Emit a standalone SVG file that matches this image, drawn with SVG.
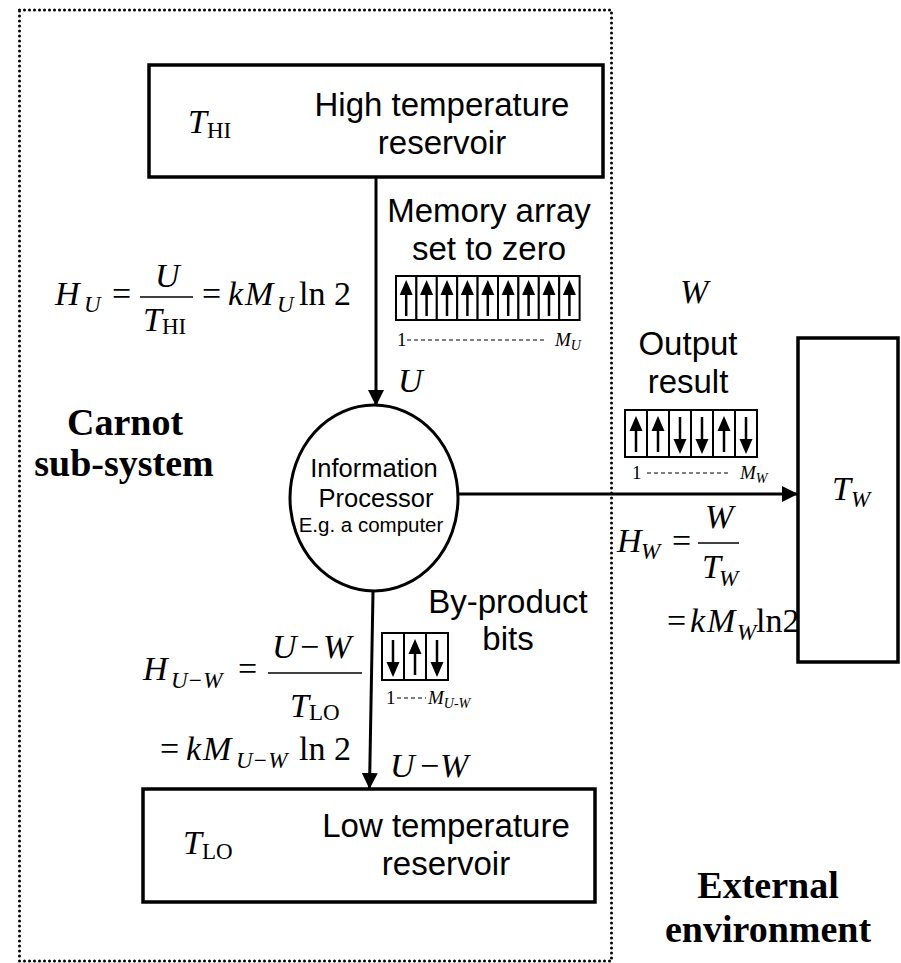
<svg xmlns="http://www.w3.org/2000/svg" xmlns:xlink="http://www.w3.org/1999/xlink" width="901" height="963" viewBox="0 0 901 963">
<style>
.lbl{font-family:"Liberation Sans",Arial,sans-serif;font-size:33px;fill:#000;text-anchor:middle}
.m{font-family:"Liberation Serif","Times New Roman",serif;font-size:34px;fill:#000;font-style:italic}
.r{font-style:normal}
.sub{font-size:23px}
.big{font-family:"Liberation Serif","Times New Roman",serif;font-size:38px;font-weight:bold;fill:#000;text-anchor:middle}
.idx{font-family:"Liberation Serif","Times New Roman",serif;font-size:19px;fill:#000}
.box{fill:#fff;stroke:#000;stroke-width:3.5}
.cell{fill:#fff;stroke:#000;stroke-width:2}
.conn{stroke:#000;stroke-width:3;fill:none}
.frac{stroke:#000;stroke-width:1.5}
.dash{stroke:#000;stroke-width:1;stroke-dasharray:4 3}
</style>
<defs>
<marker id="ah" markerWidth="16" markerHeight="16" viewBox="0 0 16 16" refX="15" refY="8" orient="auto" markerUnits="userSpaceOnUse">
<path d="M0,0 L16,8 L0,16 Z" fill="#000"/>
</marker>
<g id="up"><line x1="0" y1="16" x2="0" y2="40" stroke="#000" stroke-width="2.5"/><path d="M0,4 L-6.5,19 L6.5,19 Z" fill="#000"/></g>
<g id="dn"><line x1="0" y1="5" x2="0" y2="29" stroke="#000" stroke-width="2.5"/><path d="M0,42 L-6.5,27 L6.5,27 Z" fill="#000"/></g>
</defs>

<g id="boundary">
<rect x="19.5" y="10" width="592" height="951" fill="none" stroke="#000" stroke-width="3" stroke-dasharray="0 5" stroke-linecap="round"/>
</g>

<g id="connectors">
<line class="conn" x1="376" y1="177" x2="376" y2="405" marker-end="url(#ah)"/>
<line class="conn" x1="458" y1="494" x2="797" y2="494" marker-end="url(#ah)"/>
<line class="conn" x1="373" y1="592" x2="369.5" y2="788" marker-end="url(#ah)"/>
</g>

<g id="high-reservoir">
<rect class="box" x="149" y="65" width="454" height="112"/>
<text class="m" x="188" y="133">T<tspan class="r sub" dy="5">HI</tspan></text>
<text class="lbl" x="442" y="116">High temperature</text>
<text class="lbl" x="442" y="154">reservoir</text>
</g>

<g id="low-reservoir">
<rect class="box" x="143" y="789" width="452" height="113"/>
<text class="m" x="183" y="854">T<tspan class="r sub" dy="5">LO</tspan></text>
<text class="lbl" x="446" y="837">Low temperature</text>
<text class="lbl" x="446" y="875">reservoir</text>
</g>

<g id="processor">
<ellipse cx="374" cy="498" rx="84" ry="93" fill="#fff" stroke="#000" stroke-width="3"/>
<text class="lbl" x="374" y="477" style="font-size:25.5px">Information</text>
<text class="lbl" x="376" y="507" style="font-size:25.5px">Processor</text>
<text class="lbl" x="371" y="532" style="font-size:20.5px">E.g. a computer</text>
</g>

<g id="work-reservoir">
<rect class="box" x="798" y="338" width="100" height="324"/>
<text class="m" x="832" y="500">T<tspan class="sub" dy="7">W</tspan></text>
</g>

<g id="memory-array">
<text class="lbl" x="489" y="222">Memory array</text>
<text class="lbl" x="489" y="260">set to zero</text>
<rect class="cell" x="396" y="276" width="20.4" height="44"/>
<rect class="cell" x="416.4" y="276" width="20.4" height="44"/>
<rect class="cell" x="436.8" y="276" width="20.4" height="44"/>
<rect class="cell" x="457.2" y="276" width="20.4" height="44"/>
<rect class="cell" x="477.6" y="276" width="20.4" height="44"/>
<rect class="cell" x="498" y="276" width="20.4" height="44"/>
<rect class="cell" x="518.4" y="276" width="20.4" height="44"/>
<rect class="cell" x="538.8" y="276" width="20.4" height="44"/>
<rect class="cell" x="559.2" y="276" width="20.4" height="44"/>
<use xlink:href="#up" x="406.2" y="276"/>
<use xlink:href="#up" x="426.6" y="276"/>
<use xlink:href="#up" x="447" y="276"/>
<use xlink:href="#up" x="467.4" y="276"/>
<use xlink:href="#up" x="487.8" y="276"/>
<use xlink:href="#up" x="508.2" y="276"/>
<use xlink:href="#up" x="528.6" y="276"/>
<use xlink:href="#up" x="549" y="276"/>
<use xlink:href="#up" x="569.4" y="276"/>
<text class="idx" x="397" y="346">1</text>
<line class="dash" x1="407" y1="340" x2="545" y2="340"/>
<text class="idx" x="555" y="346" font-style="italic">M<tspan font-size="14" dy="4">U</tspan></text>
</g>

<g id="output-array">
<text class="m" x="680" y="303">W</text>
<text class="lbl" x="688" y="355">Output</text>
<text class="lbl" x="688" y="393">result</text>
<rect class="cell" x="625" y="410" width="22" height="47"/>
<rect class="cell" x="647" y="410" width="22" height="47"/>
<rect class="cell" x="669" y="410" width="22" height="47"/>
<rect class="cell" x="691" y="410" width="22" height="47"/>
<rect class="cell" x="713" y="410" width="22" height="47"/>
<rect class="cell" x="735" y="410" width="22" height="47"/>
<use xlink:href="#up" x="636" y="412"/>
<use xlink:href="#up" x="658" y="412"/>
<use xlink:href="#dn" x="680" y="412"/>
<use xlink:href="#dn" x="702" y="412"/>
<use xlink:href="#up" x="724" y="412"/>
<use xlink:href="#dn" x="746" y="412"/>
<text class="idx" x="632" y="479">1</text>
<line class="dash" x1="647" y1="473" x2="731" y2="473"/>
<text class="idx" x="740" y="479" font-style="italic">M<tspan font-size="14" dy="4">W</tspan></text>
</g>

<g id="byproduct-array">
<text class="lbl" x="508" y="613">By-product</text>
<text class="lbl" x="508" y="650">bits</text>
<rect class="cell" x="382" y="633" width="22" height="47"/>
<rect class="cell" x="404" y="633" width="22" height="47"/>
<rect class="cell" x="426" y="633" width="22" height="47"/>
<use xlink:href="#dn" x="393" y="635"/>
<use xlink:href="#up" x="415" y="635"/>
<use xlink:href="#dn" x="437" y="635"/>
<text class="idx" x="386" y="704">1</text>
<line class="dash" x1="397" y1="698" x2="426" y2="698"/>
<text class="idx" x="428" y="704" font-style="italic">M<tspan font-size="14" dy="4">U-W</tspan></text>
</g>

<g id="flow-labels">
<text class="m" x="398" y="392">U</text>
<text class="m" x="390" y="777">U<tspan x="418">−</tspan><tspan x="440">W</tspan></text>
</g>

<g id="eq-HU">
<text class="m" x="55" y="305">H</text>
<text class="m sub" x="84" y="312">U</text>
<text class="m r" x="112" y="305">=</text>
<text class="m" x="155" y="287">U</text>
<line class="frac" x1="140" y1="297" x2="193" y2="297"/>
<text class="m" x="143" y="331">T</text>
<text class="m r sub" x="162" y="334">HI</text>
<text class="m r" x="202" y="305">=</text>
<text class="m" x="228" y="305">k<tspan x="245">M</tspan></text>
<text class="m sub" x="277" y="312">U</text>
<text class="m r" x="299" y="305">ln 2</text>
</g>

<g id="eq-HW">
<text class="m" x="617" y="552">H</text>
<text class="m sub" x="641" y="559">W</text>
<text class="m r" x="672" y="552">=</text>
<text class="m" x="705" y="528">W</text>
<line class="frac" x1="698" y1="543" x2="739" y2="543"/>
<text class="m" x="702" y="578">T</text>
<text class="m sub" x="719" y="586">W</text>
<text class="m r" x="667" y="632">=</text>
<text class="m" x="690" y="632">k<tspan x="707">M</tspan></text>
<text class="m sub" x="737" y="640">W</text>
<text class="m r" x="756" y="632">ln2</text>
</g>

<g id="eq-HUW">
<text class="m" x="143" y="680">H</text>
<text class="m sub" x="171" y="688">U−W</text>
<text class="m r" x="238" y="680">=</text>
<text class="m" x="272" y="658">U<tspan class="r" x="300">−</tspan><tspan x="323">W</tspan></text>
<line class="frac" x1="268" y1="673" x2="362" y2="673"/>
<text class="m" x="290" y="717">T</text>
<text class="m r sub" x="309" y="720">LO</text>
<text class="m r" x="160" y="760">=</text>
<text class="m" x="186" y="760">k<tspan x="203">M</tspan></text>
<text class="m sub" x="236" y="768">U−W</text>
<text class="m r" x="299" y="760">ln 2</text>
</g>

<g id="region-labels">
<text class="big" x="125" y="435">Carnot</text>
<text class="big" x="124" y="476">sub-system</text>
<text class="big" x="768" y="898">External</text>
<text class="big" x="768" y="942">environment</text>
</g>
</svg>
